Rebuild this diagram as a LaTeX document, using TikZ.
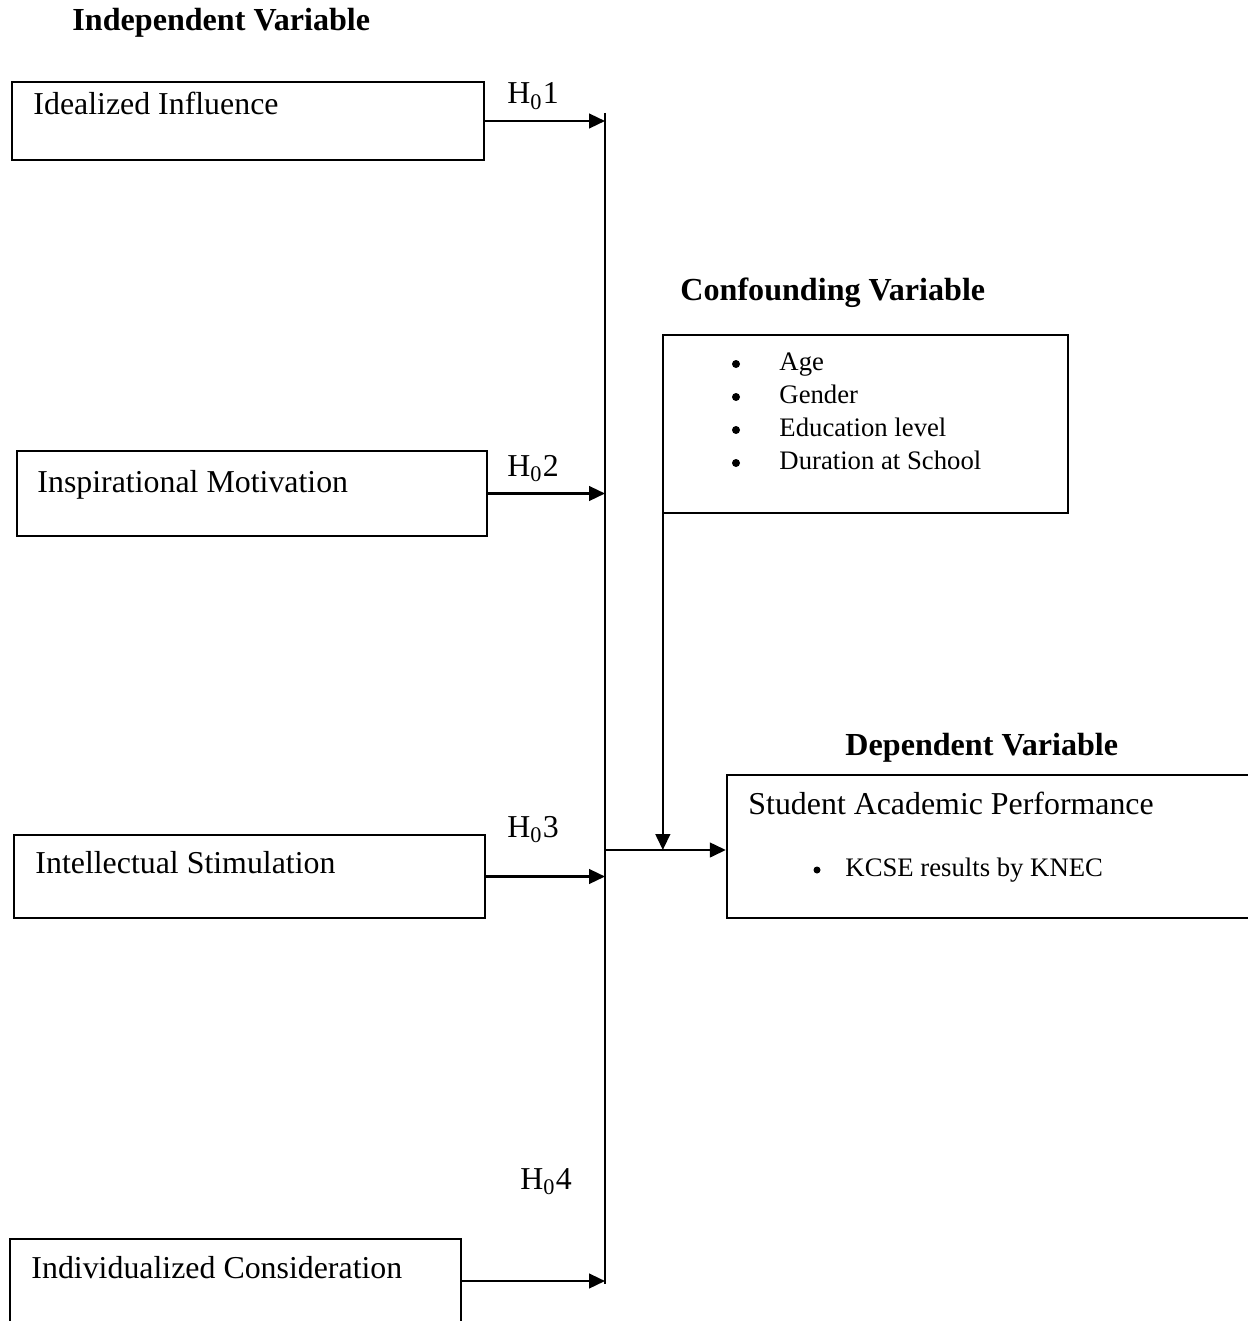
\documentclass[tikz,border=0pt]{standalone}
\usepackage{fontspec}
\setmainfont{Liberation Serif}
\usetikzlibrary{arrows.meta}

\tikzset{
  varbox/.style={draw, line width=1pt, inner sep=0pt},
  txt/.style={anchor=base west, inner sep=0pt, font=\fontsize{13.6}{16}\selectfont},
  head/.style={anchor=base west, inner sep=0pt, font=\fontsize{13.7}{16}\selectfont\bfseries},
  small/.style={anchor=base west, inner sep=0pt, font=\fontsize{11.4}{13.5}\selectfont},
  dot/.style={circle, fill, inner sep=0pt, minimum size=8*0.015cm},
  link/.style={line width=1pt, -{Triangle[length=0.24cm, width=0.22cm]}},
  bar/.style={line width=1pt}
}

\begin{document}
\begin{tikzpicture}[x={(0.015cm,0cm)}, y={(0cm,-0.015cm)}]
  \clip (0,0) rectangle (1248,1321);

  % Headings
  \node[head] (indep) at (72,31) {Independent Variable};
  \node[head] (conf) at (680,300) {Confounding Variable};
  \node[head] (dep) at (845,755) {Dependent Variable};

  % Independent variable boxes
  \node[varbox, minimum width=472*0.015cm, minimum height=78*0.015cm] (ii) at (248,121) {};
  \node[varbox, minimum width=470*0.015cm, minimum height=85*0.015cm] (im) at (252,493.5) {};
  \node[varbox, minimum width=471*0.015cm, minimum height=83*0.015cm] (is) at (249.5,876.5) {};
  \node[varbox, minimum width=451*0.015cm, minimum height=84*0.015cm] (ic) at (235.5,1281) {};
  \node[txt] (iitxt) at (33,115) {Idealized Influence};
  \node[txt] (imtxt) at (37,492) {Inspirational Motivation};
  \node[txt] (istxt) at (35,873) {Intellectual Stimulation};
  \node[txt] (ictxt) at (31,1278) {Individualized Consideration};

  % Confounding box
  \node[varbox, minimum width=405*0.015cm, minimum height=178*0.015cm] (cbox) at (865.5,424) {};
  \node[dot] (c1) at (736,364) {};
  \node[dot] (c2) at (736,397) {};
  \node[dot] (c3) at (736,430) {};
  \node[dot] (c4) at (736,463) {};
  \node[small] (age) at (779,370) {Age};
  \node[small] (gen) at (779,403) {Gender};
  \node[small] (edu) at (779,436) {Education level};
  \node[small] (dur) at (779,469) {Duration at School};

  % Dependent box
  \node[varbox, minimum width=533*0.015cm, minimum height=143*0.015cm] (dbox) at (993.5,846.5) {};
  \node[txt] (sap) at (748,814) {Student Academic Performance};
  \node[dot, minimum size=7*0.015cm] (d1) at (817,870) {};
  \node[small] (kcse) at (845,876) {KCSE results by KNEC};

  % Hypotheses
  \node[txt] (h1) at (507,104) {H\textsubscript{0}1};
  \node[txt] (h2) at (507,476) {H\textsubscript{0}2};
  \node[txt] (h3) at (507,837) {H\textsubscript{0}3};
  \node[txt] (h4) at (520,1189) {H\textsubscript{0}4};

  % Connectors
  \coordinate (top) at (605,113);
  \coordinate (bot) at (605,1284);
  \coordinate (join) at (606,850);
  \draw[bar] (top) -- (bot);
  \draw[link] (ii.east) -- (ii.east -| top);
  \draw[link] (im.east) -- (im.east -| top);
  \draw[link] (is.east) -- (is.east -| top);
  \draw[link] (ic.east) -- (ic.east -| top);
  \draw[link] (join) -- (join -| dbox.west);
  \draw[link] ([xshift=0.015cm]cbox.south west) -- ([xshift=0.015cm]cbox.south west |- join);
\end{tikzpicture}
\end{document}
